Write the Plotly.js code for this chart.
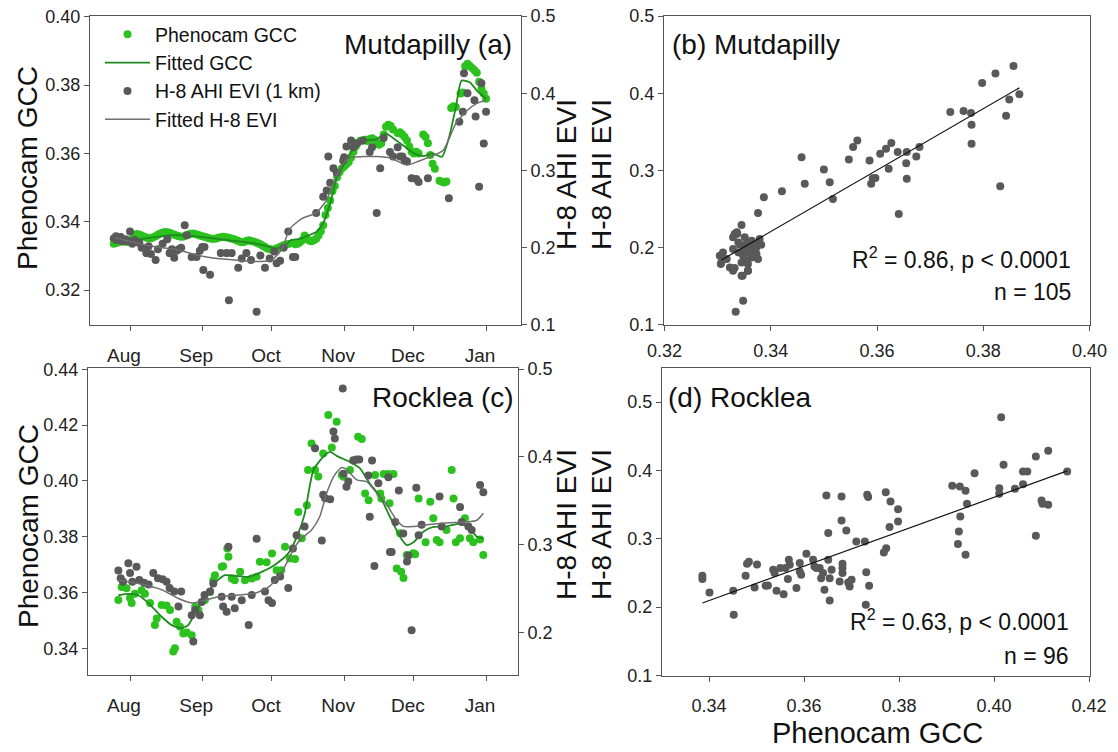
<!DOCTYPE html>
<html><head><meta charset="utf-8">
<script src="https://cdn.plot.ly/plotly-3.0.1.min.js"></script>
<style>html,body{margin:0;padding:0;background:#fff}#chart{width:1118px;height:752px}</style>
</head><body><div id="chart"></div>
<script>
// ---- axis tick labels ----
const monthTickDays = [0, 31, 61, 92, 122, 153];   // days since 1 Aug
const monthLabels = ['Aug', 'Sep', 'Oct', 'Nov', 'Dec', 'Jan'];

// ---- (a) Mutdapilly: Phenocam GCC (day since 1 Aug, value) ----
const mdDay = [-7,-6,-5,-4,-3,-2,-1,0,1,2,3,4,5,6,7,8,9,10,11,12,13,14,15,16,17,18,19,20,21,22,23,24,25,26,27,28,29,30,31,32,33,34,35,36,37,38,39,40,41,42,43,44,45,46,47,48,49,50,51,52,53,54,55,56,57,58,59,60,61,62,63,64,65,66,67,68,70,71,72,73,74,75,76,77,78,79,80,81,82,83,84,85,86,87,88,89,90,91,92,93,94,95,96,97,98,99,100,101,102,103,104,105,106,107,108,109,110,111,112,113,115,116,117,118,119,120,121,122,123,124,126,127,128,129,130,131,133,134,135,136,138,139,140,142,143,144,145,146,147,148,149,150,151,152,153];
const mdGcc = [0.3336,0.3338,0.3340,0.3343,0.3345,0.3342,0.3341,0.3345,0.3350,0.3358,0.3364,0.3362,0.3360,0.3356,0.3354,0.3352,0.3352,0.3355,0.3358,0.3362,0.3366,0.3368,0.3370,0.3369,0.3368,0.3365,0.3362,0.3360,0.3358,0.3356,0.3357,0.3360,0.3362,0.3365,0.3366,0.3364,0.3362,0.3360,0.3358,0.3356,0.3354,0.3352,0.3350,0.3350,0.3351,0.3353,0.3355,0.3356,0.3355,0.3354,0.3352,0.3350,0.3348,0.3345,0.3342,0.3340,0.3341,0.3344,0.3346,0.3344,0.3342,0.3340,0.3337,0.3334,0.3330,0.3326,0.3322,0.3320,0.3318,0.3319,0.3322,0.3325,0.3328,0.3331,0.3333,0.3335,0.3338,0.3334,0.3336,0.3340,0.3346,0.3360,0.3352,0.3345,0.3343,0.3346,0.3350,0.3360,0.3372,0.3390,0.3420,0.3440,0.3462,0.3490,0.3505,0.3530,0.3545,0.3556,0.3562,0.3568,0.3575,0.3588,0.3605,0.3620,0.3632,0.3637,0.3638,0.3640,0.3636,0.3642,0.3644,0.3640,0.3632,0.3625,0.3630,0.3655,0.3678,0.3684,0.3680,0.3670,0.3660,0.3662,0.3655,0.3648,0.3638,0.3620,0.3605,0.3600,0.3605,0.3600,0.3655,0.3648,0.3630,0.3595,0.3570,0.3555,0.3520,0.3517,0.3515,0.3518,0.3733,0.3738,0.3736,0.3775,0.3778,0.3855,0.3862,0.3856,0.3850,0.3843,0.3836,0.3810,0.3790,0.3775,0.3760];
// fitted GCC
const mdFitDay = [-7,-3,0,6,12,18,28,35,42,48,54,58,62,66,69,73,77,80,83,86,89,92,95,98,101,106,110,114,118,122,126,130,134,137,140,142.5,146,149,153];
const mdFitGcc = [0.3336,0.3342,0.3346,0.3351,0.3356,0.3361,0.3358,0.3352,0.3346,0.3342,0.3336,0.3330,0.3322,0.3327,0.3346,0.3350,0.3361,0.3370,0.3396,0.3454,0.3531,0.3568,0.3605,0.3630,0.3638,0.3642,0.3658,0.3640,0.3620,0.3600,0.3592,0.3600,0.3590,0.3645,0.3735,0.3813,0.3808,0.3784,0.3760];
// H-8 AHI EVI
const mdEviDay = [-7,-6,-5,-4,-3,-2,-1,0,1,2,4,5,7,8,9,11,12,14,16,17,18,19,20,21,22,23.5,24.4,26.5,28.6,30,31,31.5,32,34.4,39,41.5,42.5,43.7,46.5,48,50,52,54.4,56,58,60,62,63,64.5,66,68,70,71,80,83,84.5,85.2,86,87.4,88.8,91.6,92,93,95,96,97.5,100,103,104,106,107.5,109,111.7,113,115,116,117,118,119,121,123,124,128,137,141.5,143,143.5,145,148,148.5,150,151,152,153];
const mdEvi = [0.212,0.215,0.210,0.214,0.208,0.211,0.209,0.221,0.205,0.210,0.206,0.200,0.193,0.202,0.192,0.184,0.198,0.205,0.211,0.193,0.198,0.187,0.196,0.198,0.200,0.229,0.216,0.188,0.188,0.196,0.201,0.171,0.201,0.165,0.193,0.193,0.132,0.193,0.174,0.186,0.193,0.184,0.117,0.190,0.174,0.186,0.195,0.180,0.183,0.200,0.221,0.188,0.188,0.245,0.266,0.274,0.318,0.284,0.303,0.297,0.313,0.317,0.331,0.339,0.330,0.335,0.339,0.324,0.330,0.245,0.303,0.342,0.324,0.318,0.330,0.318,0.318,0.313,0.312,0.290,0.289,0.285,0.290,0.264,0.363,0.376,0.426,0.400,0.391,0.370,0.279,0.413,0.335,0.376];
// fitted H-8 EVI
const mdFitEviDay = [-6.4,0,6.4,14,20.8,28,35,45,53.7,60.8,65,68.8,74,80,84.5,87.4,91.7,95,100,106,112,119,124,129,134.5,137.5,140,145,149,153];
const mdFitEvi = [0.213,0.208,0.2035,0.200,0.197,0.191,0.187,0.184,0.182,0.184,0.197,0.225,0.238,0.245,0.262,0.284,0.310,0.317,0.318,0.318,0.316,0.307,0.312,0.318,0.326,0.344,0.361,0.378,0.387,0.391];

// ---- (c) Rocklea ----
const rkDay = [-5,-3.6,-1.5,0,0.7,2.1,5,6.4,8.6,10.7,11.5,13.6,15.7,17.2,18.6,19.3,20,21.5,22.9,24.4,26.5,28,29.4,32.2,34.4,35.8,36.5,39.4,40,41.8,42.3,43.7,45,47.3,49.4,52.3,54.4,55.8,58.7,61,63,65,66.6,68.7,70.9,72.3,73.8,76,76.5,78,79.5,80.9,83,85.2,86.7,88.8,91,91.7,94.5,96,98,99.6,101,102.5,105.3,107.5,108,109,111,111.5,113.2,114.6,116,116.5,117.5,118.9,121.7,122.5,124,127,129,130.3,131.8,133,136,138.2,139,140,141.8,143.9,146,147.5,150.4,151.8];
const rkGcc = [0.3573,0.3620,0.3615,0.3580,0.3562,0.3595,0.3608,0.3595,0.3562,0.3483,0.3507,0.3555,0.3553,0.3537,0.3388,0.3400,0.3495,0.3477,0.3453,0.3456,0.3447,0.3549,0.3537,0.3573,0.3602,0.3644,0.3662,0.3692,0.3694,0.3758,0.3728,0.3650,0.3644,0.3674,0.3644,0.3650,0.3656,0.3710,0.3708,0.3740,0.3680,0.3680,0.3764,0.3722,0.3720,0.3889,0.3794,0.3913,0.4039,0.4134,0.4039,0.4016,0.4098,0.4236,0.4120,0.4212,0.4021,0.4015,0.4039,0.4074,0.4158,0.4150,0.3955,0.3931,0.4021,0.3955,0.3937,0.4025,0.4025,0.3920,0.4025,0.3686,0.3812,0.3674,0.3652,0.3734,0.3741,0.3737,0.3937,0.3780,0.3925,0.3866,0.3788,0.3780,0.3824,0.4039,0.3937,0.3780,0.3794,0.3866,0.3794,0.3780,0.3790,0.3734];
const rkFitDay = [-5,-0.7,3.6,7.9,13.6,17.9,22.2,25,28,32.2,36.5,40.8,45,50.8,56.6,62,68,72.3,75,78.8,83,85.9,88.8,94.5,98.8,103,107.5,111.7,116,118.9,121.8,126,130.3,136,141.8,146,149,151.8];
const rkFitGcc = [0.3590,0.3595,0.3590,0.3562,0.3513,0.3483,0.3472,0.3483,0.3526,0.3585,0.3634,0.3662,0.3660,0.3656,0.3674,0.3698,0.3740,0.3812,0.3880,0.4039,0.4086,0.4104,0.4090,0.4068,0.4045,0.3991,0.3943,0.3871,0.3800,0.3770,0.3780,0.3818,0.3835,0.3837,0.3847,0.3830,0.3800,0.3795];
const rkEviDay = [-5,-4,-3,-0.7,0,1,2.8,4,6,8,10,12,14,15.7,17,19,20.8,22,26.5,27.2,28,30,30.8,32,34.4,35.8,39.4,40,41.5,42.3,43.7,45,48,51,52.3,54.4,58,59.5,61,62.2,64.5,68,70,71.6,75,79.5,82.4,83,83.8,86,87.4,88,91.4,91.7,93,93.8,96,97.4,98.5,102.4,103,104,105,106.7,111,111.7,112.4,114,115.5,117.4,119,119.6,121,123,124,125.3,133,133.9,141.8,142.5,145.4,146.8,150.4,151.8];
const rkEvi = [0.271,0.262,0.258,0.279,0.268,0.258,0.275,0.260,0.257,0.255,0.268,0.262,0.261,0.258,0.251,0.247,0.230,0.247,0.220,0.190,0.226,0.220,0.235,0.243,0.247,0.256,0.241,0.230,0.224,0.298,0.241,0.228,0.237,0.209,0.243,0.307,0.247,0.237,0.234,0.260,0.264,0.251,0.296,0.311,0.321,0.410,0.305,0.357,0.353,0.352,0.429,0.421,0.478,0.381,0.366,0.372,0.396,0.397,0.397,0.379,0.332,0.396,0.276,0.370,0.377,0.292,0.292,0.326,0.362,0.313,0.281,0.288,0.203,0.365,0.311,0.323,0.355,0.321,0.343,0.326,0.321,0.317,0.368,0.360];
const rkFitEviDay = [-5,3.6,13.6,20.8,26.5,32,38,46.6,53.7,59.5,65.2,70.9,74,78,81.5,84.5,88,91,93,97.4,101.7,106,110,114.6,117.5,121.8,127.5,136,144.6,149,151.8];
const rkFitEvi = [0.260,0.256,0.249,0.239,0.234,0.237,0.241,0.243,0.245,0.252,0.269,0.298,0.308,0.317,0.332,0.359,0.380,0.388,0.386,0.374,0.372,0.359,0.347,0.328,0.321,0.321,0.323,0.325,0.326,0.328,0.336];

// ---- (b) Mutdapilly scatter: GCC vs EVI ----
const mdScatGcc = [0.3857,0.3823,0.3798,0.3868,0.3849,0.3843,0.3832,0.3738,0.3763,0.3777,0.3778,0.3778,0.3680,0.3674,0.3656,0.3655,0.3656,0.3639,0.3627,0.3617,0.3606,0.3622,0.3641,0.3586,0.3592,0.3597,0.3589,0.3563,0.3555,0.3547,0.3517,0.3511,0.3500,0.3464,0.3458,0.3421,0.3387,0.3376,0.3345,0.3332,0.3337,0.3339,0.3354,0.3310,0.3304,0.3307,0.3323,0.3329,0.3345,0.3357,0.3348,0.3334,0.3354,0.3361,0.3367,0.3373,0.3364,0.3354,0.3348,0.3339,0.3329,0.3351,0.3370,0.3379,0.3364,0.3329,0.3336,0.3376,0.3357,0.3317,0.3345,0.3362,0.3342,0.3351,0.3373,0.3382,0.3306,0.3332,0.3357,0.3347];
const mdScatEvi = [0.4355,0.4256,0.4134,0.3987,0.3918,0.3710,0.2796,0.3757,0.3770,0.3744,0.3593,0.3347,0.3303,0.3182,0.3238,0.3095,0.2892,0.3238,0.3355,0.3282,0.3217,0.3022,0.2437,0.3130,0.2900,0.2904,0.2827,0.3390,0.3303,0.3143,0.2632,0.2848,0.3013,0.2827,0.3173,0.2732,0.2654,0.2451,0.2295,0.2178,0.2180,0.2069,0.1960,0.1939,0.1896,0.1809,0.1744,0.1701,0.1636,0.1701,0.1312,0.1169,0.2048,0.2004,0.1961,0.1918,0.1874,0.1831,0.1896,0.1939,0.1983,0.1961,0.2048,0.2113,0.2091,0.2134,0.2199,0.1853,0.1788,0.1853,0.1809,0.1918,0.2039,0.2134,0.2004,0.2039,0.1788,0.1736,0.1700,0.1636];
const mdRegX = [0.3307, 0.3868];
const mdRegY = [0.184, 0.407];

// ---- (d) Rocklea scatter ----
const rkScatGcc = [0.3386,0.3386,0.3401,0.3451,0.3452,0.3477,0.3480,0.3484,0.3501,0.3496,0.3519,0.3524,0.3535,0.3538,0.3542,0.3557,0.3566,0.3568,0.3570,0.3584,0.3591,0.3594,0.3605,0.3619,0.3622,0.3633,0.3640,0.3636,0.3643,0.3647,0.3651,0.3654,0.3654,0.3658,0.3679,0.3679,0.3681,0.3681,0.3675,0.3689,0.3693,0.3696,0.3700,0.3710,0.3728,0.3731,0.3737,0.3730,0.3733,0.3735,0.3772,0.3782,0.3798,0.3798,0.3780,0.3773,0.3768,0.3912,0.3928,0.3940,0.3943,0.3929,0.3926,0.3924,0.3940,0.3959,0.4015,0.4020,0.4011,0.4011,0.4044,0.4061,0.4061,0.4070,0.4088,0.4114,0.4088,0.4100,0.4102,0.4114,0.4154,0.3550,0.3561,0.3591,0.3626,0.3651,0.3681];
const rkScatEvi = [0.2459,0.2410,0.2215,0.2239,0.1888,0.2459,0.2634,0.2663,0.2624,0.2288,0.2312,0.2317,0.2546,0.2498,0.2239,0.2190,0.2410,0.2693,0.2620,0.2278,0.2644,0.2473,0.2780,0.2693,0.2595,0.2571,0.2498,0.2424,0.2254,0.3634,0.3083,0.2424,0.2098,0.2546,0.3620,0.3268,0.2571,0.2498,0.2376,0.3122,0.2361,0.2302,0.2400,0.2961,0.2961,0.2512,0.2312,0.2034,0.3644,0.3610,0.3683,0.3546,0.3434,0.3254,0.3171,0.2863,0.2800,0.3776,0.3766,0.3702,0.3512,0.3327,0.3107,0.2922,0.2766,0.3961,0.4780,0.4083,0.3741,0.3659,0.3732,0.3800,0.3985,0.3985,0.4205,0.4288,0.3044,0.3561,0.3512,0.3498,0.3985,0.2571,0.2571,0.2522,0.2571,0.2693,0.2634];
const rkRegX = [0.3386, 0.4154];
const rkRegY = [0.206, 0.3995];

// ---- styling ----
const W = 1118, H = 752;
const px = v => v / W;
const py = v => 1 - v / H;
const FONT = 'Liberation Sans, Arial, sans-serif';
const GREEN = '#2cc21e', GREEN_LINE = '#1f8a1f', GRAY = '#595959', GRAY_LINE = '#6e6e6e';
const AXC = '#555';

function dots(x, y, xa, ya, color, name, rank, show) {
  return {x, y, xaxis: xa, yaxis: ya, type: 'scatter', mode: 'markers', name,
    legendrank: rank, showlegend: show, marker: {color, size: 8}, hoverinfo: 'skip'};
}
function line(x, y, xa, ya, color, width, name, rank, show) {
  return {x, y, xaxis: xa, yaxis: ya, type: 'scatter', mode: 'lines', name,
    legendrank: rank, showlegend: show, line: {color, width, shape: 'spline', smoothing: 0.6}, hoverinfo: 'skip'};
}

const data = [
  dots(mdDay, mdGcc, 'x', 'y', GREEN, 'Phenocam GCC', 1, true),
  line(mdFitDay, mdFitGcc, 'x', 'y', GREEN_LINE, 1.8, 'Fitted GCC', 2, true),
  dots(mdEviDay, mdEvi, 'x', 'y2', GRAY, 'H-8 AHI EVI (1 km)', 3, true),
  line(mdFitEviDay, mdFitEvi, 'x', 'y2', GRAY_LINE, 1.5, 'Fitted H-8 EVI', 4, true),
  dots(rkDay, rkGcc, 'x2', 'y3', GREEN, 'Phenocam GCC', 5, false),
  line(rkFitDay, rkFitGcc, 'x2', 'y3', GREEN_LINE, 1.8, 'Fitted GCC', 6, false),
  dots(rkEviDay, rkEvi, 'x2', 'y4', GRAY, 'H-8 AHI EVI (1 km)', 7, false),
  line(rkFitEviDay, rkFitEvi, 'x2', 'y4', GRAY_LINE, 1.5, 'Fitted H-8 EVI', 8, false),
  dots(mdScatGcc, mdScatEvi, 'x3', 'y5', GRAY, 'b', 9, false),
  {x: mdRegX, y: mdRegY, xaxis: 'x3', yaxis: 'y5', mode: 'lines', showlegend: false, line: {color: '#111', width: 1.2}, hoverinfo: 'skip'},
  dots(rkScatGcc, rkScatEvi, 'x4', 'y6', GRAY, 'd', 10, false),
  {x: rkRegX, y: rkRegY, xaxis: 'x4', yaxis: 'y6', mode: 'lines', showlegend: false, line: {color: '#111', width: 1.2}, hoverinfo: 'skip'}
];

const tickFont = {family: FONT, size: 18, color: '#222'};
const monthFont = {family: FONT, size: 19, color: '#222'};
const baseAx = {showgrid: false, zeroline: false, showline: true, linecolor: AXC, linewidth: 1,
  ticks: 'outside', ticklen: 5, tickcolor: AXC, tickfont: tickFont, fixedrange: true};

const layout = {
  width: W, height: H, margin: {l: 0, r: 0, t: 0, b: 0},
  paper_bgcolor: '#fff', plot_bgcolor: 'rgba(0,0,0,0)',
  font: {family: FONT, color: '#111'},
  showlegend: true,
  legend: {x: px(100), y: py(15), xanchor: 'left', yanchor: 'top', bgcolor: 'rgba(0,0,0,0)',
    font: {family: FONT, size: 19.5, color: '#111'}, itemwidth: 45, tracegroupgap: 0, traceorder: 'normal'},
  xaxis: Object.assign({}, baseAx, {domain: [px(90), px(521)], anchor: 'y', range: [-17.19, 168.0],
    tickmode: 'array', tickvals: monthTickDays, ticktext: monthLabels, mirror: true,
    ticklabelstandoff: 8, ticklabelshift: -6, tickfont: monthFont}),
  yaxis: Object.assign({}, baseAx, {domain: [py(325), py(16)], anchor: 'x', range: [0.3098, 0.4002],
    dtick: 0.02, tick0: 0, tickformat: '.2f'}),
  yaxis2: Object.assign({}, baseAx, {overlaying: 'y', side: 'right', anchor: 'x', range: [0.0999, 0.5001],
    dtick: 0.1, tick0: 0, tickformat: '.1f'}),
  xaxis2: Object.assign({}, baseAx, {domain: [px(88), px(518)], anchor: 'y3', range: [-18.05, 166.7],
    tickmode: 'array', tickvals: monthTickDays, ticktext: monthLabels, mirror: true,
    ticklabelstandoff: 8, ticklabelshift: -6, tickfont: monthFont}),
  yaxis3: Object.assign({}, baseAx, {domain: [py(675), py(368)], anchor: 'x2', range: [0.3304, 0.4405],
    dtick: 0.02, tick0: 0, tickformat: '.2f'}),
  yaxis4: Object.assign({}, baseAx, {overlaying: 'y3', side: 'right', anchor: 'x2', range: [0.152, 0.5012],
    dtick: 0.1, tick0: 0, tickformat: '.1f'}),
  xaxis3: Object.assign({}, baseAx, {domain: [px(664), px(1090)], anchor: 'y5', range: [0.3199, 0.4001],
    dtick: 0.02, tick0: 0, tickformat: '.2f', mirror: true, ticklabelstandoff: 4}),
  yaxis5: Object.assign({}, baseAx, {domain: [py(325), py(16)], anchor: 'x3', range: [0.0999, 0.5001],
    dtick: 0.1, tick0: 0, tickformat: '.1f', mirror: true}),
  xaxis4: Object.assign({}, baseAx, {domain: [px(662), px(1090)], anchor: 'y6', range: [0.3301, 0.4202],
    dtick: 0.02, tick0: 0, tickformat: '.2f', mirror: true, ticklabelstandoff: 9}),
  yaxis6: Object.assign({}, baseAx, {domain: [py(675.5), py(368)], anchor: 'x4', range: [0.0999, 0.55],
    dtick: 0.1, tick0: 0, tickformat: '.1f', mirror: true}),
  annotations: []
};

function ann(text, x, y, opts) {
  return Object.assign({text, x: px(x), y: py(y), xref: 'paper', yref: 'paper', showarrow: false,
    xanchor: 'center', yanchor: 'middle', font: {family: FONT, size: 27, color: '#111'}}, opts || {});
}
const big = {family: FONT, size: 28, color: '#111'};
const mid = {family: FONT, size: 23, color: '#111'};
layout.annotations.push(
  ann('Mutdapilly (a)', 514, 44, {xanchor: 'right', font: big}),
  ann('(b) Mutdapilly', 670, 44, {xanchor: 'left', font: big}),
  ann('Rocklea (c)', 516, 397, {xanchor: 'right', font: big}),
  ann('(d) Rocklea', 666, 397, {xanchor: 'left', font: big}),
  ann('R<sup>2</sup> = 0.86, p &lt; 0.0001', 1073, 258, {xanchor: 'right', font: mid}),
  ann('n = 105', 1073, 292, {xanchor: 'right', font: mid}),
  ann('R<sup>2</sup> = 0.63, p &lt; 0.0001', 1071, 620, {xanchor: 'right', font: mid}),
  ann('n = 96', 1071, 656, {xanchor: 'right', font: mid}),
  ann('Phenocam GCC', 28, 168, {textangle: -90, font: big}),
  ann('Phenocam GCC', 28, 526, {textangle: -90, font: big}),
  ann('H-8 AHI EVI', 566, 175, {textangle: -90, font: big}),
  ann('H-8 AHI EVI', 601, 175, {textangle: -90, font: big}),
  ann('H-8 AHI EVI', 566, 525, {textangle: -90, font: big}),
  ann('H-8 AHI EVI', 601, 525, {textangle: -90, font: big}),
  ann('Phenocam GCC', 877, 733, {font: {family: FONT, size: 29, color: '#111'}})
);

Plotly.newPlot('chart', data, layout, {staticPlot: true, displayModeBar: false});
</script></body></html>
